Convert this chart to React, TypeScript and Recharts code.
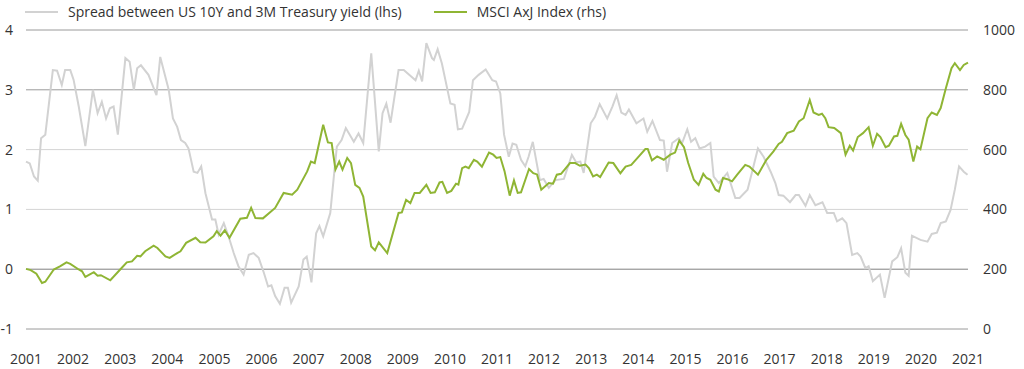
import React from "react";
import { ComposedChart, Line, XAxis, YAxis, ReferenceLine } from "recharts";

// spread between US 10Y and 3M Treasury yield (lhs)
const spreadTimes = [
  2001.0, 2001.08, 2001.17, 2001.25, 2001.32, 2001.41, 2001.57, 2001.66, 2001.76, 2001.83, 2001.94,
  2002.01, 2002.12, 2002.26, 2002.42, 2002.52, 2002.61, 2002.7, 2002.78, 2002.86, 2002.95,
  2003.11, 2003.2, 2003.29, 2003.36, 2003.44, 2003.6, 2003.77, 2003.85,
  2004.03, 2004.12, 2004.21, 2004.29, 2004.38, 2004.45, 2004.56, 2004.64, 2004.72, 2004.81, 2004.95,
  2005.02, 2005.09, 2005.2, 2005.3, 2005.41, 2005.51, 2005.62, 2005.73, 2005.83, 2005.94,
  2006.05, 2006.14, 2006.21, 2006.29, 2006.39, 2006.49, 2006.56, 2006.63, 2006.79, 2006.89, 2006.96,
  2007.06, 2007.16, 2007.23, 2007.31, 2007.46, 2007.55, 2007.6, 2007.7, 2007.79, 2007.96,
  2008.06, 2008.16, 2008.33, 2008.49, 2008.57, 2008.65, 2008.74, 2008.91,
  2009.02, 2009.27, 2009.34, 2009.41, 2009.5, 2009.62, 2009.66, 2009.74, 2009.83,
  2010.01, 2010.1, 2010.17, 2010.26, 2010.41, 2010.49, 2010.61, 2010.76, 2010.9, 2010.98,
  2011.07, 2011.15, 2011.25, 2011.33, 2011.41, 2011.51, 2011.6, 2011.67, 2011.76, 2011.91, 2011.99,
  2012.1, 2012.24, 2012.42, 2012.59, 2012.68, 2012.77, 2012.84, 2012.99,
  2013.08, 2013.18, 2013.34, 2013.45, 2013.54, 2013.64, 2013.73, 2013.8, 2013.96,
  2014.11, 2014.19, 2014.3, 2014.46, 2014.54, 2014.61, 2014.72, 2014.86, 2014.93,
  2015.04, 2015.12, 2015.21, 2015.3, 2015.42, 2015.53, 2015.6, 2015.71, 2015.89,
  2016.06, 2016.15, 2016.32, 2016.41, 2016.54, 2016.66, 2016.81, 2016.91, 2016.98,
  2017.08, 2017.22, 2017.34, 2017.41, 2017.55, 2017.64, 2017.76, 2017.91,
  2018.01, 2018.15, 2018.22, 2018.33, 2018.42, 2018.54, 2018.65, 2018.72, 2018.82, 2018.89, 2018.98,
  2019.13, 2019.23, 2019.39, 2019.5, 2019.58, 2019.67, 2019.74, 2019.81, 2019.99,
  2020.14, 2020.23, 2020.34, 2020.42, 2020.53, 2020.63, 2020.72, 2020.81, 2020.91, 2020.99,
];
const spreadValues = [
  1.8, 1.77, 1.55, 1.48, 2.19, 2.25, 3.33, 3.32, 3.08, 3.33, 3.33,
  3.17, 2.72, 2.06, 3.0, 2.61, 2.8, 2.52, 2.69, 2.72, 2.25,
  3.53, 3.47, 3.0, 3.36, 3.41, 3.25, 2.91, 3.55,
  3.0, 2.52, 2.38, 2.16, 2.11, 2.02, 1.63, 1.61, 1.72, 1.27, 0.83,
  0.83, 0.58, 0.77, 0.55, 0.27, 0.05, -0.09, 0.24, 0.27, 0.19,
  -0.06, -0.29, -0.27, -0.45, -0.58, -0.31, -0.31, -0.56, -0.29, 0.16, 0.21,
  -0.22, 0.6, 0.72, 0.55, 0.94, 1.66, 2.05, 2.16, 2.36, 2.13,
  2.27, 2.11, 3.61, 1.97, 2.61, 2.77, 2.45, 3.33,
  3.33, 3.16, 3.32, 3.14, 3.78, 3.53, 3.5, 3.68, 3.44,
  2.77, 2.75, 2.34, 2.35, 2.63, 3.16, 3.25, 3.34, 3.16, 3.14,
  2.94, 2.25, 1.88, 2.1, 2.08, 1.83, 1.72, 1.88, 2.13, 1.49, 1.51,
  1.36, 1.49, 1.51, 1.91, 1.79, 1.8, 1.61, 2.44,
  2.55, 2.76, 2.52, 2.72, 2.91, 2.62, 2.58, 2.67, 2.44,
  2.52, 2.3, 2.48, 2.16, 2.15, 1.63, 2.11, 2.19, 2.11,
  2.34, 2.13, 2.19, 2.02, 2.05, 2.11, 1.55, 1.44, 1.61,
  1.19, 1.19, 1.33, 1.61, 2.02, 1.88, 1.63, 1.44, 1.24,
  1.23, 1.12, 1.24, 1.24, 1.06, 1.24, 1.07, 1.12,
  0.94, 0.94, 0.8, 0.85, 0.77, 0.24, 0.27, 0.21, 0.02, 0.05, -0.2,
  -0.09, -0.48, 0.13, 0.2, 0.35, -0.06, -0.11, 0.56, 0.49,
  0.46, 0.59, 0.61, 0.77, 0.8, 0.99, 1.33, 1.72, 1.63, 1.58,
];

// MSCI AxJ Index (rhs)
const msciTimes = [
  2001.0, 2001.1, 2001.22, 2001.34, 2001.41, 2001.59, 2001.73, 2001.86, 2001.94,
  2002.12, 2002.19, 2002.26, 2002.44, 2002.52, 2002.59, 2002.79,
  2003.0, 2003.14, 2003.25, 2003.36, 2003.43, 2003.53, 2003.71, 2003.79, 2003.96,
  2004.05, 2004.21, 2004.28, 2004.4, 2004.6, 2004.7, 2004.81, 2004.98,
  2005.05, 2005.13, 2005.22, 2005.32, 2005.55, 2005.69, 2005.78, 2005.87,
  2006.03, 2006.29, 2006.47, 2006.65, 2006.76, 2006.97,
  2007.05, 2007.13, 2007.31, 2007.41, 2007.49, 2007.57, 2007.65, 2007.72, 2007.82, 2007.9, 2007.99,
  2008.08, 2008.16, 2008.33, 2008.41, 2008.49, 2008.67, 2008.91, 2008.98,
  2009.07, 2009.16, 2009.25, 2009.36, 2009.5, 2009.59, 2009.68, 2009.78, 2009.84, 2009.94,
  2010.03, 2010.13, 2010.18, 2010.26, 2010.33, 2010.4, 2010.51, 2010.58, 2010.68, 2010.83, 2010.92, 2010.99,
  2011.07, 2011.16, 2011.27, 2011.36, 2011.44, 2011.51, 2011.68, 2011.77, 2011.85, 2011.94,
  2012.1, 2012.19, 2012.27, 2012.36, 2012.55, 2012.66, 2012.76, 2012.88, 2012.95,
  2013.04, 2013.12, 2013.19, 2013.37, 2013.47, 2013.62, 2013.73, 2013.85, 2013.96,
  2014.15, 2014.2, 2014.29, 2014.4, 2014.54, 2014.68, 2014.78, 2014.87, 2014.97,
  2015.06, 2015.18, 2015.28, 2015.38, 2015.45, 2015.53, 2015.64, 2015.71, 2015.8, 2015.89, 2015.99,
  2016.1, 2016.27, 2016.36, 2016.54, 2016.72, 2016.87, 2016.98,
  2017.05, 2017.16, 2017.3, 2017.41, 2017.51, 2017.64, 2017.72, 2017.83, 2017.9, 2017.97,
  2018.04, 2018.16, 2018.3, 2018.4, 2018.49, 2018.56, 2018.66, 2018.77, 2018.89, 2018.98,
  2019.07, 2019.14, 2019.25, 2019.32, 2019.43, 2019.5, 2019.58, 2019.67, 2019.74, 2019.84, 2019.92, 2019.99,
  2020.14, 2020.23, 2020.34, 2020.42, 2020.53, 2020.65, 2020.72, 2020.83, 2020.91, 2021.0,
];
const msciValues = [
  201, 197, 185, 154, 158, 199, 210, 223, 218,
  199, 193, 174, 190, 178, 180, 163,
  199, 223, 226, 245, 243, 260, 279, 271, 243,
  238, 254, 260, 288, 305, 290, 289, 310,
  327, 312, 330, 305, 369, 372, 405, 371,
  370, 405, 455, 449, 466, 527,
  560, 555, 683, 624, 622, 533, 560, 533, 572, 555, 482,
  472, 443, 276, 263, 290, 254, 388, 390,
  432, 421, 455, 455, 482, 455, 457, 490, 492, 455,
  462, 486, 483, 538, 543, 538, 566, 560, 543, 590, 583, 572,
  575, 528, 446, 497, 455, 457, 535, 521, 517, 466,
  488, 486, 516, 519, 555, 555, 546, 550, 538,
  510, 516, 508, 557, 555, 521, 543, 549, 568,
  602, 602, 564, 577, 566, 583, 590, 630, 608,
  555, 499, 482, 519, 505, 499, 466, 460, 505, 501, 494,
  516, 549, 543, 516, 566, 594, 619,
  626, 655, 663, 694, 705, 766, 724, 716, 720, 705,
  675, 672, 655, 583, 613, 597, 642, 655, 675, 613,
  653, 642, 608, 613, 644, 646, 686, 649, 633, 560, 610, 601,
  705, 724, 716, 739, 805, 872, 889, 866, 883, 891,
];

const yearTicks = [2001, 2002, 2003, 2004, 2005, 2006, 2007, 2008, 2009, 2010, 2011, 2012, 2013, 2014, 2015, 2016, 2017, 2018, 2019, 2020, 2021];
const leftTicks = [-1, 0, 1, 2, 3, 4];
const rightTicks = [0, 200, 400, 600, 800, 1000];

const spreadData = spreadTimes.map((t, i) => ({ t, spread: spreadValues[i] }));
const msciData = msciTimes.map((t, i) => ({ t, msci: msciValues[i] }));

const GRAY = "#d2d2d2";
const GREEN = "#8fb534";
const FONT = "'Open Sans', sans-serif";
const tickStyle = { fill: "#333", fontSize: 14, fontFamily: FONT };

const gridColor = (v: number) => (v === 0 ? "#808080" : v === 1 || v === 2 ? "#d4d4d4" : "#9a9a9a");

export default function App() {
  return (
    <div style={{ position: "absolute", left: 0, top: 0, width: 1024, height: 369, background: "#fff", fontFamily: FONT }}>
      <div style={{ position: "absolute", left: 25, top: 2, display: "flex", alignItems: "center", fontSize: 14, color: "#333", whiteSpace: "nowrap" }}>
        <span style={{ display: "inline-block", width: 33, height: 2, background: GRAY, marginRight: 10 }} />
        <span>Spread between US 10Y and 3M Treasury yield (lhs)</span>
        <span style={{ display: "inline-block", width: 33, height: 2, background: GREEN, marginLeft: 32, marginRight: 10 }} />
        <span>MSCI AxJ Index (rhs)</span>
      </div>
      <ComposedChart width={1024} height={369} margin={{ top: 30, right: 0, bottom: 0, left: 0 }}>
        <XAxis
          dataKey="t"
          type="number"
          domain={[2001, 2021]}
          ticks={yearTicks}
          allowDuplicatedCategory={false}
          axisLine={false}
          tickLine={false}
          tickSize={0}
          tickMargin={25}
          height={40}
          tick={tickStyle}
          interval={0}
        />
        <YAxis
          yAxisId="left"
          orientation="left"
          domain={[-1, 4]}
          ticks={leftTicks}
          axisLine={false}
          tickLine={false}
          tickSize={0}
          tickMargin={13}
          width={26}
          tick={tickStyle}
        />
        <YAxis
          yAxisId="right"
          orientation="right"
          domain={[0, 1000]}
          ticks={rightTicks}
          axisLine={false}
          tickLine={false}
          tickSize={0}
          tickMargin={15}
          width={56}
          tick={tickStyle}
        />
        {leftTicks.map((v) => (
          <ReferenceLine key={v} yAxisId="left" y={v} stroke={gridColor(v)} strokeWidth={1} />
        ))}
        <Line
          yAxisId="left"
          data={spreadData}
          dataKey="spread"
          type="linear"
          stroke={GRAY}
          strokeWidth={2}
          dot={false}
          isAnimationActive={false}
        />
        <Line
          yAxisId="right"
          data={msciData}
          dataKey="msci"
          type="linear"
          stroke={GREEN}
          strokeWidth={2}
          dot={false}
          isAnimationActive={false}
        />
      </ComposedChart>
    </div>
  );
}
